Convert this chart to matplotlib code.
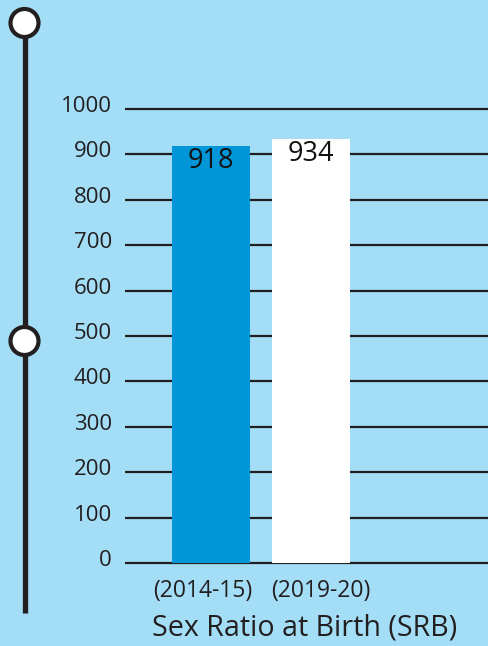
import matplotlib
matplotlib.use("Agg")
import matplotlib.pyplot as plt
from matplotlib.patches import Circle
from matplotlib.lines import Line2D
import matplotlib.transforms as mtransforms

# Sex Ratio at Birth (females per 1000 males)
periods = ["(2014-15)", "(2019-20)"]
srb_values = [918, 934]
bar_colors = ["#0096d8", "#ffffff"]
y_ticks = [0, 100, 200, 300, 400, 500, 600, 700, 800, 900, 1000]
title = "Sex Ratio at Birth (SRB)"

BG = "#a3ddf6"
INK = "#231f20"
FONT = ["Open Sans", "DejaVu Sans"]
plt.rcParams["font.family"] = FONT

W, H = 489, 646
fig = plt.figure(figsize=(W / 100, H / 100), dpi=100)
fig.patch.set_facecolor(BG)

# main axes placed in pixel terms
px_per_unit = 0.454
y0_px = 563
ymin, ymax = -30, 1050
ax_left, ax_right = 125, 489
ax_top = y0_px - ymax * px_per_unit
ax_bot = y0_px - ymin * px_per_unit
ax = fig.add_axes([ax_left / W, 1 - ax_bot / H, (ax_right - ax_left) / W, (ax_bot - ax_top) / H])
ax.set_facecolor(BG)
ax.set_ylim(ymin, ymax)
ax.set_xlim(-0.86, 2.78)

x = list(range(len(periods)))
bars = ax.bar(x, srb_values, width=0.78, color=bar_colors, zorder=3, linewidth=0)

for xi, v in zip(x, srb_values):
    ax.annotate(str(v), (xi, v), xytext=(0, -10.5), textcoords="offset points",
                ha="center", va="center", fontsize=19.5, color="#111111", zorder=4)

ax.set_yticks(y_ticks)
ax.set_yticklabels([str(t) for t in y_ticks], fontsize=16, color=INK)
ax.grid(axis="y", color=INK, linewidth=1.6, zorder=1)
ax.tick_params(axis="y", length=0, pad=9.5)
for lbl in ax.get_yticklabels():
    lbl.set_transform(lbl.get_transform() + mtransforms.ScaledTranslation(0, 5 / 100, fig.dpi_scale_trans))

ax.set_xticks(x)
ax.set_xticklabels(periods, fontsize=16.5, color=INK)
ax.tick_params(axis="x", length=0, pad=1.5)
shifts = [-8.5, 10]
for lbl, s in zip(ax.get_xticklabels(), shifts):
    lbl.set_transform(lbl.get_transform() + mtransforms.ScaledTranslation(s / 100, 0, fig.dpi_scale_trans))

for sp in ax.spines.values():
    sp.set_visible(False)

fig.text(305 / W, 1 - 628 / H, title, ha="center", va="center", fontsize=20.6, color=INK)

# decorative timeline on the left edge
ov = fig.add_axes([0, 0, 1, 1], zorder=5)
ov.set_xlim(0, W)
ov.set_ylim(H, 0)
ov.axis("off")
ov.patch.set_alpha(0)
ov.add_line(Line2D([24.5, 24.5], [30, 613], color=INK, linewidth=3.8, solid_capstyle="butt", zorder=1))
for cy in (23, 341):
    ov.add_patch(Circle((24.5, cy), 14, facecolor="white", edgecolor=INK, linewidth=3, zorder=2))

fig.savefig("out.png", dpi=100, facecolor=BG)
